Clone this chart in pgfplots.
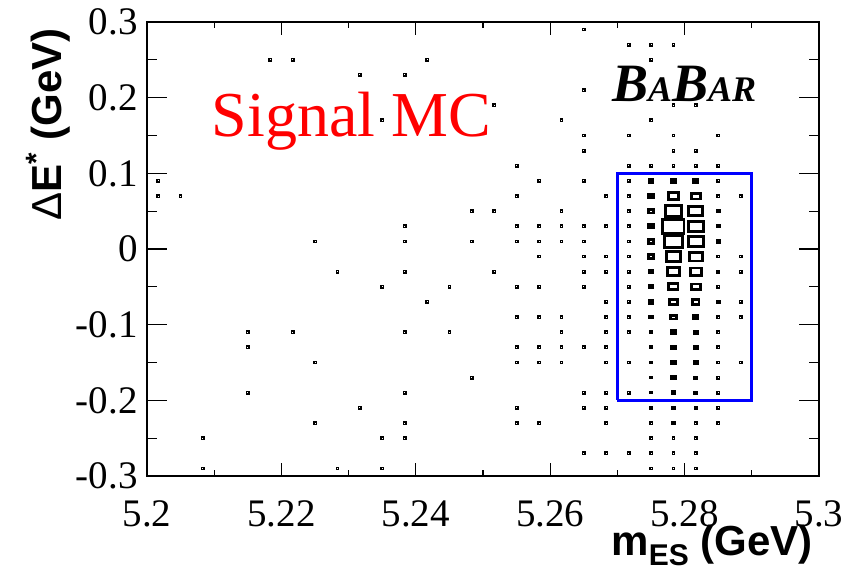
\documentclass[border=0pt]{standalone}
\usepackage{pgfplots}
\pgfplotsset{compat=1.18}
\usepackage{fontspec}
\setmainfont{Liberation Serif}
\newfontfamily\helv{Liberation Sans}

% bins of the 2D histogram: 30 x 30 cells, 0.1/30 GeV wide, 0.02 GeV high
% cells with a single entry
\pgfplotstableread{
x y
5.201667 0.09
5.201667 0.07
5.205 0.07
5.208333 -0.25
5.208333 -0.29
5.215 -0.11
5.215 -0.13
5.215 -0.19
5.218333 0.25
5.221667 0.25
5.221667 -0.11
5.225 0.01
5.225 -0.15
5.225 -0.23
5.228333 -0.03
5.228333 -0.29
5.231667 0.23
5.231667 -0.21
5.235 0.17
5.235 -0.05
5.235 -0.25
5.235 -0.29
5.238333 0.23
5.238333 0.03
5.238333 0.01
5.238333 -0.03
5.238333 -0.11
5.238333 -0.19
5.238333 -0.23
5.238333 -0.25
5.241667 0.25
5.241667 -0.07
5.245 -0.05
5.245 -0.11
5.248333 0.05
5.248333 0.01
5.248333 -0.17
5.251667 0.19
5.251667 0.05
5.251667 -0.03
5.255 0.11
5.255 0.07
5.255 0.03
5.255 0.01
5.255 -0.05
5.255 -0.09
5.255 -0.13
5.255 -0.15
5.255 -0.21
5.255 -0.23
5.258333 0.09
5.258333 0.03
5.258333 0.01
5.258333 -0.01
5.258333 -0.05
5.258333 -0.09
5.258333 -0.13
5.258333 -0.15
5.258333 -0.23
5.261667 0.17
5.261667 0.05
5.261667 0.03
5.261667 0.01
5.261667 -0.09
5.261667 -0.11
5.261667 -0.13
5.261667 -0.15
5.265 0.29
5.265 0.21
5.265 0.15
5.265 0.13
5.265 0.09
5.265 0.03
5.265 0.01
5.265 -0.01
5.265 -0.03
5.265 -0.05
5.265 -0.13
5.265 -0.19
5.265 -0.21
5.265 -0.27
5.268333 0.07
5.268333 0.03
5.268333 -0.01
5.268333 -0.03
5.268333 -0.07
5.268333 -0.09
5.268333 -0.11
5.268333 -0.13
5.268333 -0.15
5.268333 -0.19
5.268333 -0.21
5.268333 -0.23
5.268333 -0.27
5.271667 0.27
5.271667 0.15
5.271667 0.11
5.271667 0.09
5.271667 0.07
5.271667 0.05
5.271667 0.03
5.271667 0.01
5.271667 -0.01
5.271667 -0.03
5.271667 -0.05
5.271667 -0.07
5.271667 -0.09
5.271667 -0.11
5.271667 -0.15
5.271667 -0.19
5.271667 -0.27
5.275 0.27
5.275 0.25
5.275 0.17
5.275 0.11
5.275 -0.23
5.275 -0.25
5.275 -0.27
5.275 -0.29
5.278333 0.27
5.278333 0.19
5.278333 0.15
5.278333 0.13
5.278333 0.11
5.278333 -0.25
5.278333 -0.27
5.278333 -0.29
5.281667 0.19
5.281667 0.13
5.281667 0.11
5.281667 -0.23
5.281667 -0.25
5.281667 -0.27
5.281667 -0.29
5.285 0.15
5.285 0.11
5.285 0.09
5.285 0.07
5.285 -0.01
5.285 -0.05
5.285 -0.09
5.285 -0.11
5.285 -0.13
5.285 -0.15
5.285 -0.17
5.285 -0.19
5.285 -0.21
5.285 -0.23
5.288333 0.07
5.288333 -0.01
5.288333 -0.03
5.288333 -0.07
5.288333 -0.09
5.288333 -0.15
}\singles

% filled cells, h = half height of the box in pt
\pgfplotstableread{
x y h
5.275 0.09 0.62
5.275 0.07 0.84
5.275 0.05 0.89
5.275 0.03 0.79
5.275 0.01 0.84
5.275 -0.01 0.84
5.275 -0.03 0.67
5.275 -0.05 0.62
5.275 -0.07 0.62
5.275 -0.09 0.40
5.275 -0.11 0.30
5.275 -0.13 0.30
5.275 -0.15 0.20
5.275 -0.17 0.15
5.275 -0.19 0.15
5.275 -0.21 0.15
5.278333 0.09 0.79
5.278333 0.07 1.74
5.278333 0.05 2.64
5.278333 0.03 3.60
5.278333 0.01 3.03
5.278333 -0.01 2.36
5.278333 -0.03 2.08
5.278333 -0.05 1.52
5.278333 -0.07 1.35
5.278333 -0.09 0.95
5.278333 -0.11 0.73
5.278333 -0.13 0.67
5.278333 -0.15 0.67
5.278333 -0.17 0.67
5.278333 -0.19 0.45
5.278333 -0.21 0.35
5.278333 -0.23 0.24
5.281667 0.09 0.73
5.281667 0.07 1.46
5.281667 0.05 2.36
5.281667 0.03 2.58
5.281667 0.01 2.47
5.281667 -0.01 2.19
5.281667 -0.03 1.85
5.281667 -0.05 1.46
5.281667 -0.07 1.07
5.281667 -0.09 0.73
5.281667 -0.11 0.62
5.281667 -0.13 0.56
5.281667 -0.15 0.45
5.281667 -0.17 0.35
5.281667 -0.19 0.35
5.281667 -0.21 0.24
5.285 0.05 0.35
5.285 0.03 0.35
5.285 0.01 0.35
5.285 -0.03 0.24
5.285 -0.07 0.35
}\boxes

\begin{document}
\begin{tikzpicture}
\pgfplotsset{
  rootframe/.style={
    scale only axis, width=336pt, height=227pt,
    xmin=5.2, xmax=5.3, ymin=-0.3, ymax=0.3,
    tick align=inside, tick pos=both,
    xticklabel pos=lower, yticklabel pos=left,
    axis line style={line width=0.75pt},
    every tick/.style={black, line width=0.6pt},
    tick label style={font=\fontsize{19.5}{19.5}\selectfont, inner sep=0pt},
  },
}
% frame and x ticks
\begin{axis}[rootframe,
  xtick={5.2,5.22,5.24,5.26,5.28,5.3},
  xticklabels={5.2,5.22,5.24,5.26,5.28,5.3},
  minor x tick num=1, ytick=\empty,
  major tick length=6.5pt, minor tick length=3pt,
  x tick label style={yshift=-12pt},
]
\end{axis}
% y ticks and data
\begin{axis}[rootframe, clip=false,
  xtick=\empty,
  ytick={-0.3,-0.2,-0.1,0,0.1,0.2,0.3},
  yticklabels={-0.3,-0.2,-0.1,0,0.1,0.2,0.3},
  minor y tick num=1,
  major tick length=10pt, minor tick length=5pt,
  y tick label style={xshift=-4.5pt},
]
\addplot[only marks, mark=square, mark size=0.6pt,
  mark options={black, line width=0.7pt}] table[x=x, y=y] {\singles};
\addplot[scatter, only marks, mark=square,
  point meta=\thisrow{h},
  scatter/use mapped color={draw=black, fill=none},
  visualization depends on={\thisrow{h} \as \halfh},
  scatter/@pre marker code/.append style={/tikz/mark size=\halfh,
    /tikz/line width=1.4pt},
  mark options={line width=1.4pt, xscale=1.483, line join=miter}]
  table[x=x, y=y] {\boxes};
% signal box
\addplot[blue, line width=1.5pt, line join=miter] coordinates
  {(5.27,-0.2) (5.29,-0.2) (5.29,0.1) (5.27,0.1) (5.27,-0.2)};

\node[anchor=base west, inner sep=0pt, text=red,
  font=\fontsize{32}{32}\selectfont] at (axis cs:5.2096,0.1484) {Signal MC};
\node[anchor=base west, inner sep=0pt] at (axis cs:5.26915,0.1947)
  {\bfseries\itshape\fontsize{27}{27}\selectfont B\fontsize{18}{18}\selectfont A\fontsize{27}{27}\selectfont B\fontsize{18}{18}\selectfont AR};
\node[anchor=base east, inner sep=0pt] at (axis cs:5.2991,-0.405)
  {\helv\bfseries\fontsize{21}{21}\selectfont m\raisebox{-5pt}{\fontsize{15}{15}\selectfont ES} (GeV)};
\node[anchor=base east, inner sep=0pt, rotate=90] at (axis cs:5.18735,0.2921)
  {\helv\bfseries\fontsize{21}{21}\selectfont {\mdseries Δ}E\textsuperscript{*} (GeV)};
\end{axis}
\pgfresetboundingbox
\path (-73.5pt,-48.5pt) rectangle (359pt,238pt);
\end{tikzpicture}
\end{document}
